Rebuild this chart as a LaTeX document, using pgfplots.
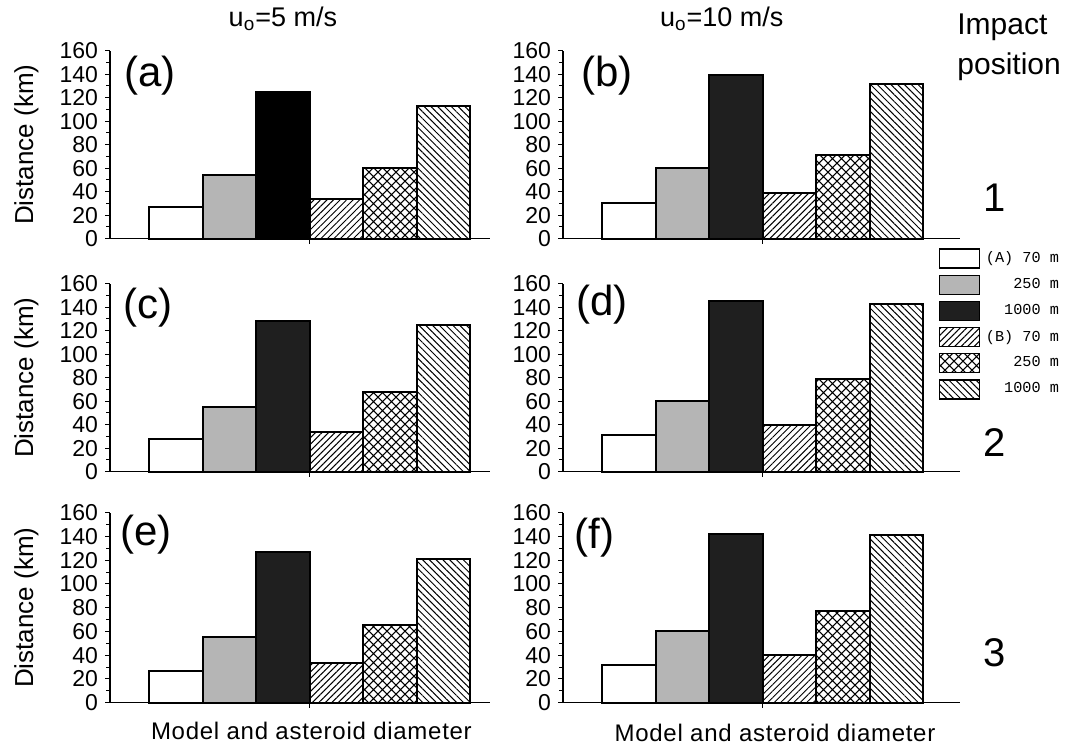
\documentclass[border=0pt]{standalone}
\usepackage{fontspec}
\setmainfont{Liberation Sans}
\newfontfamily\legfont{Liberation Mono}
\usepackage{pgfplots}
\pgfplotsset{compat=1.18}
\usetikzlibrary{patterns,patterns.meta}

% cross hatch for the (B) 250 m bars
\pgfdeclarepatternformonly{xhatch}{\pgfqpoint{-1pt}{-1pt}}{\pgfqpoint{5.5pt}{5.5pt}}{\pgfqpoint{4.5pt}{4.5pt}}{%
  \pgfsetlinewidth{0.6pt}%
  \pgfpathmoveto{\pgfqpoint{-0.1pt}{-0.1pt}}\pgfpathlineto{\pgfqpoint{4.6pt}{4.6pt}}%
  \pgfpathmoveto{\pgfqpoint{-0.1pt}{4.6pt}}\pgfpathlineto{\pgfqpoint{4.6pt}{-0.1pt}}%
  \pgfusepath{stroke}}

\tikzset{tag/.style={font=\fontsize{21}{24}\selectfont}}

\pgfplotsset{
  kbar/.style={ybar, bar width=53.5, bar shift=0pt, draw=black, line width=1pt,
    legend image code/.code={\draw[##1,line width=0.6pt] (0pt,-4.75pt) rectangle (20pt,4.75pt);}},
  A70/.style={fill=white},
  A250/.style={fill=black!29},
  kfill/.style={fill=black!88},
  B70/.style={pattern={Lines[angle=45,distance=2.3pt,line width=0.5pt]}},
  B250/.style={pattern=xhatch},
  B1000/.style={pattern={Lines[angle=-45,distance=2.4pt,line width=0.5pt]}},
  panel/.style={
    scale only axis, anchor=south west,
    xmin=0, ymin=0, ymax=160, enlargelimits=false, clip=false,
    axis x line*=bottom, axis y line*=left,
    axis line style={-, line width=0.6pt},
    ytick={0,20,...,160}, minor y tick num=1,
    xtick={199.75}, xticklabels={},
    tick align=outside, major tick length=2.5pt, minor tick length=2pt,
    tick style={black, line width=0.5pt},
    yticklabel style={font=\fontsize{11.5}{12}\selectfont},
    /pgf/number format/assume math mode=true,
  },
  lcol/.style={panel, width=190pt, xmax=380, ylabel={Distance (km)},
    ylabel style={font=\fontsize{13}{14}\selectfont, at={(axis description cs:-0.22,0.5)}, anchor=center}},
  rcol/.style={panel, width=198.5pt, xmax=397},
  bottomlab/.style={xlabel={\addfontfeature{LetterSpace=3}Model and asteroid diameter},
    xlabel style={font=\fontsize{12}{14}\selectfont, anchor=center}},
}

% one bar per model and diameter
\newcommand\bars[6]{%
  \addplot[kbar,A70] coordinates {(66,#1)};
  \addplot[kbar,A250] coordinates {(119.5,#2)};
  \addplot[kbar,kfill] coordinates {(173,#3)};
  \addplot[kbar,B70] coordinates {(226.5,#4)};
  \addplot[kbar,B250] coordinates {(280,#5)};
  \addplot[kbar,B1000] coordinates {(333.5,#6)};
}

\begin{document}
\begin{tikzpicture}
\path (0,0) rectangle (533.5pt,372pt);

% row 1
\begin{axis}[lcol, at={(55pt,254pt)}, height=94pt, kfill/.style={fill=black},
  title={u\textsubscript{o}=5 m/s},
  title style={at={(axis description cs:0.455,1.106)}, anchor=center, font=\fontsize{13.5}{15}\selectfont}]
\bars{27}{54}{125}{34}{60}{113}
\node[tag] at (axis description cs:0.105,0.867) {(a)};
\end{axis}
\begin{axis}[rcol, at={(281.5pt,254pt)}, height=94pt,
  title={u\textsubscript{o}=10 m/s},
  title style={at={(axis description cs:0.40,1.106)}, anchor=center, font=\fontsize{13.5}{15}\selectfont}]
\bars{30}{60}{139}{39}{71}{132}
\node[tag] at (axis description cs:0.111,0.867) {(b)};
\end{axis}

% row 2
\begin{axis}[lcol, at={(55pt,137.5pt)}, height=94pt]
\bars{28}{55}{128}{34}{68}{125}
\node[tag] at (axis description cs:0.10,0.872) {(c)};
\end{axis}
\begin{axis}[rcol, at={(281.5pt,137.5pt)}, height=94pt,
  legend cell align=right,
  legend style={at={(axis description cs:0.945,1.19)}, anchor=north west,
    draw=none, fill=none, inner sep=0pt, row sep=3pt,
    /tikz/every odd column/.append style={column sep=2.5pt},
    nodes={inner sep=0.6pt}, font=\legfont\fontsize{7.6}{9}\selectfont}]
\bars{31}{60}{145}{40}{79}{143}
\node[tag] at (axis description cs:0.098,0.888) {(d)};
\legend{(A) 70 m, 250 m, 1000 m, (B) 70 m, 250 m, 1000 m}
\end{axis}

% row 3
\begin{axis}[lcol, bottomlab, at={(55pt,22pt)}, height=95pt,
  xlabel style={at={(axis description cs:0.53,-0.147)}}]
\bars{27}{55}{127}{33}{65}{121}
\node[tag] at (axis description cs:0.095,0.884) {(e)};
\end{axis}
\begin{axis}[rcol, bottomlab, at={(281.5pt,22pt)}, height=95pt,
  xlabel style={at={(axis description cs:0.534,-0.158)}}]
\bars{32}{60}{142}{40}{77}{141}
\node[tag] at (axis description cs:0.08,0.87) {(f)};
\end{axis}

\begin{scope}[x=0.5pt, y=-0.5pt, yshift=372pt]
\node[font=\fontsize{15}{20}\selectfont, align=left, anchor=west, inner sep=0pt] at (957,45) {Impact\\position};
\node[font=\fontsize{20}{24}\selectfont] at (995,195) {1};
\node[font=\fontsize{20}{24}\selectfont] at (995,440) {2};
\node[font=\fontsize{20}{24}\selectfont] at (995,650) {3};
\end{scope}
\end{tikzpicture}
\end{document}
